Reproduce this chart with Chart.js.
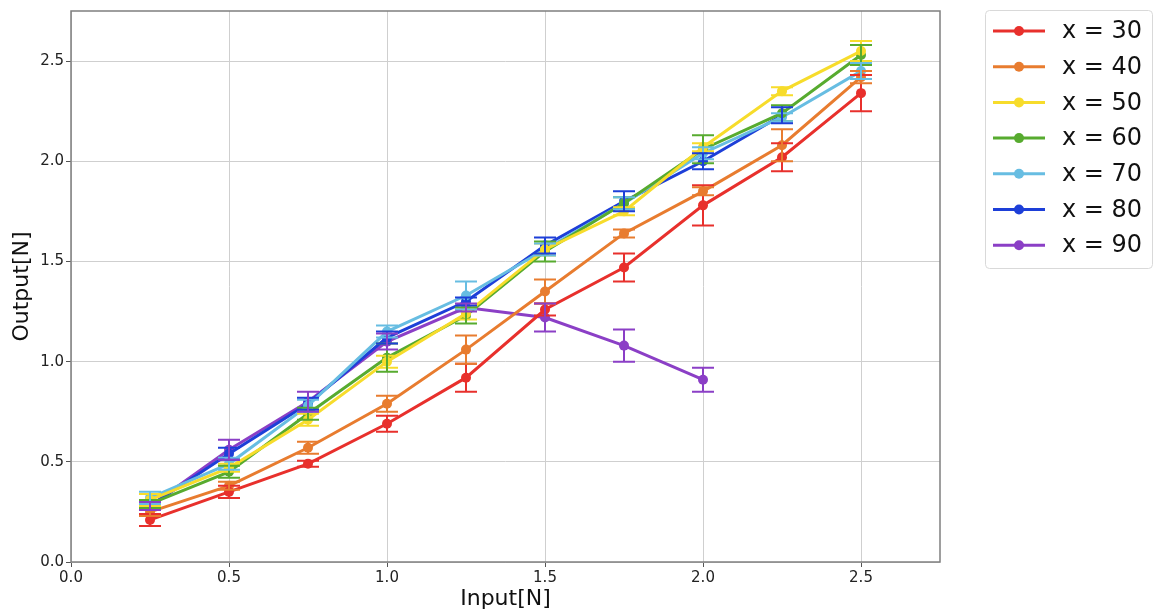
<!DOCTYPE html>
<html>
<head>
<meta charset="utf-8">
<script src="https://cdn.jsdelivr.net/npm/chart.js@4.4.0/dist/chart.umd.min.js"></script>
<style>
  html, body { margin: 0; padding: 0; background: #fff; }
  #wrap { width: 1154px; height: 612px; position: relative; }
</style>
</head>
<body>
<div id="wrap"><canvas id="forceChart"></canvas></div>
<script>
// input force steps (N)
const inputs = [0.25, 0.5, 0.75, 1.0, 1.25, 1.5, 1.75, 2.0, 2.25, 2.5];

const seriesLabels = ['x = 30', 'x = 40', 'x = 50', 'x = 60', 'x = 70', 'x = 80', 'x = 90'];
const seriesColors = ['#e8302c', '#e87c2f', '#f7dc2b', '#57ab2f', '#67bde2', '#1d3fd8', '#8b3fc6'];

// mean output per series
const out30 = [0.21, 0.35, 0.49, 0.69, 0.92, 1.26, 1.47, 1.78, 2.02, 2.34];
const out40 = [0.25, 0.38, 0.57, 0.79, 1.06, 1.35, 1.64, 1.85, 2.08, 2.42];
const out50 = [0.31, 0.47, 0.71, 1.00, 1.24, 1.56, 1.75, 2.07, 2.35, 2.55];
const out60 = [0.29, 0.45, 0.74, 1.02, 1.23, 1.55, 1.79, 2.06, 2.24, 2.53];
const out70 = [0.32, 0.49, 0.78, 1.15, 1.33, 1.56, 1.79, 2.04, 2.22, 2.45];
const out80 = [0.28, 0.54, 0.79, 1.12, 1.30, 1.58, 1.80, 2.00, 2.23];
const out90 = [0.28, 0.56, 0.80, 1.10, 1.27, 1.22, 1.08, 0.91];

// standard deviation per point
const err30 = [0.03, 0.03, 0.015, 0.04, 0.07, 0.03, 0.07, 0.10, 0.07, 0.09];
const err40 = [0.02, 0.02, 0.03, 0.04, 0.07, 0.06, 0.02, 0.02, 0.08, 0.03];
const err50 = [0.03, 0.02, 0.03, 0.03, 0.03, 0.03, 0.02, 0.02, 0.02, 0.05];
const err60 = [0.02, 0.03, 0.03, 0.07, 0.04, 0.05, 0.03, 0.07, 0.04, 0.05];
const err70 = [0.03, 0.03, 0.03, 0.03, 0.07, 0.03, 0.03, 0.03, 0.02, 0.04];
const err80 = [0.02, 0.03, 0.03, 0.03, 0.02, 0.04, 0.05, 0.04, 0.04];
const err90 = [0.02, 0.05, 0.05, 0.04, 0.02, 0.07, 0.08, 0.06];

const outputs = [out30, out40, out50, out60, out70, out80, out90];
const errors = [err30, err40, err50, err60, err70, err80, err90];

const datasets = outputs.map((vals, i) => ({
    label: seriesLabels[i],
    data: vals.map((v, j) => ({ x: inputs[j], y: v, err: errors[i][j] })),
    borderColor: seriesColors[i],
    backgroundColor: seriesColors[i],
    pointBackgroundColor: seriesColors[i],
    pointBorderWidth: 0,
    pointRadius: 5,
    borderWidth: 3,
    tension: 0
}));

// vertical error bars with caps, drawn from each point's err value
const errorBars = {
    id: 'errorBars',
    afterDatasetsDraw(chart) {
        const ctx = chart.ctx;
        const xs = chart.scales.x, ys = chart.scales.y;
        ctx.save();
        ctx.lineWidth = 2;
        chart.data.datasets.forEach(ds => {
            ctx.strokeStyle = ds.borderColor;
            ds.data.forEach(p => {
                const px = xs.getPixelForValue(p.x);
                const top = ys.getPixelForValue(p.y + p.err);
                const bot = ys.getPixelForValue(p.y - p.err);
                ctx.beginPath();
                ctx.moveTo(px, top); ctx.lineTo(px, bot);
                ctx.moveTo(px - 11, top); ctx.lineTo(px + 11, top);
                ctx.moveTo(px - 11, bot); ctx.lineTo(px + 11, bot);
                ctx.stroke();
            });
        });
        ctx.restore();
    }
};

// box around the plotting area
const frame = {
    id: 'frame',
    afterDraw(chart) {
        const a = chart.chartArea, ctx = chart.ctx;
        ctx.save();
        ctx.strokeStyle = '#7f7f7f';
        ctx.lineWidth = 1.5;
        ctx.strokeRect(a.left, a.top, a.right - a.left, a.bottom - a.top);
        ctx.restore();
    }
};

// legend box to the right of the plot
const sideLegend = {
    id: 'sideLegend',
    afterDraw(chart) {
        const ctx = chart.ctx;
        const bx = 985, by = 10, bw = 167, bh = 258;
        ctx.save();
        ctx.strokeStyle = '#d9d9d9';
        ctx.lineWidth = 1;
        ctx.beginPath();
        ctx.roundRect(bx + 0.5, by + 0.5, bw, bh, 4);
        ctx.stroke();
        ctx.font = '24px "DejaVu Sans"';
        ctx.textBaseline = 'middle';
        chart.data.datasets.forEach((ds, i) => {
            const y = 31 + i * 35.7;
            ctx.strokeStyle = ds.borderColor;
            ctx.lineWidth = 3;
            ctx.beginPath();
            ctx.moveTo(993, y); ctx.lineTo(1045, y);
            ctx.stroke();
            ctx.fillStyle = ds.borderColor;
            ctx.beginPath();
            ctx.arc(1019, y, 5, 0, Math.PI * 2);
            ctx.fill();
            ctx.fillStyle = '#111';
            ctx.fillText(ds.label, 1062, y + 1);
        });
        ctx.restore();
    }
};

const onHalfSteps = scale => {
    scale.ticks = scale.ticks.filter(t => Math.abs(t.value * 2 - Math.round(t.value * 2)) < 1e-6);
};

new Chart(document.getElementById('forceChart'), {
    type: 'line',
    data: { datasets: datasets },
    plugins: [errorBars, frame, sideLegend],
    options: {
        responsive: true,
        maintainAspectRatio: false,
        animation: false,
        layout: { padding: { top: 10, right: 214, left: 0, bottom: 0 } },
        plugins: {
            legend: { display: false },
            tooltip: { enabled: false }
        },
        scales: {
            x: {
                type: 'linear',
                min: 0,
                max: 2.75,
                afterBuildTicks: onHalfSteps,
                afterFit: s => { s.height = 50; },
                grid: { color: '#cfcfcf', lineWidth: 1, tickLength: 5, tickColor: '#555' },
                border: { display: false },
                ticks: {
                    stepSize: 0.5,
                    color: '#222',
                    padding: 2,
                    font: { family: 'DejaVu Sans', size: 15 },
                    callback: v => v.toFixed(1)
                },
                title: {
                    display: true,
                    text: 'Input[N]',
                    color: '#111',
                    padding: { top: 0, bottom: 0 },
                    font: { family: 'DejaVu Sans', size: 22 }
                }
            },
            y: {
                min: 0,
                max: 2.75,
                afterBuildTicks: onHalfSteps,
                afterFit: s => { s.width = 71; },
                grid: { color: '#cfcfcf', lineWidth: 1, tickLength: 5, tickColor: '#555' },
                border: { display: false },
                ticks: {
                    stepSize: 0.5,
                    color: '#222',
                    padding: 2,
                    font: { family: 'DejaVu Sans', size: 15 },
                    callback: v => v.toFixed(1)
                },
                title: {
                    display: true,
                    text: 'Output[N]',
                    color: '#111',
                    padding: { top: 9, bottom: 0 },
                    font: { family: 'DejaVu Sans', size: 22 }
                }
            }
        }
    }
});
</script>
</body>
</html>
